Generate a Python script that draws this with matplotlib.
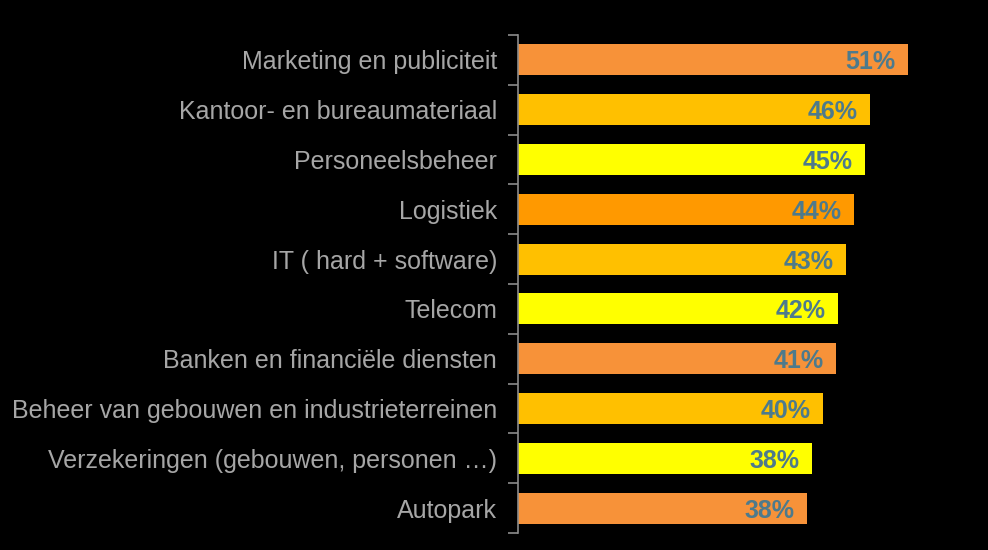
import matplotlib.pyplot as plt
import numpy as np

categories = ['Marketing en publiciteit', 'Kantoor- en bureaumateriaal', 'Personeelsbeheer',
              'Logistiek', 'IT ( hard + software)', 'Telecom', 'Banken en financiële diensten',
              'Beheer van gebouwen en industrieterreinen', 'Verzekeringen (gebouwen, personen …)',
              'Autopark']
values = [51.0, 46.0, 45.4, 43.9, 42.9, 41.8, 41.6, 39.9, 38.4, 37.8]
labels = ['51%', '46%', '45%', '44%', '43%', '42%', '41%', '40%', '38%', '38%']
colors = ['#F79239', '#FFC000', '#FFFF00', '#FF9900', '#FFC000', '#FFFF00',
          '#F79239', '#FFC000', '#FFFF00', '#F79239']

plt.rcParams['font.family'] = ['Liberation Sans', 'DejaVu Sans']

fig = plt.figure(figsize=(9.88, 5.5), dpi=100, facecolor='black')
ax = fig.add_axes([518/988, 1 - 533/550, (960-518)/988, 498/550])
ax.set_facecolor('black')

y = np.arange(len(categories))
ax.barh(y, values, height=0.62, color=colors)
ax.set_ylim(len(categories) - 0.5, -0.5)
ax.set_xlim(0, 57.8)

# value labels inside bar ends
for i, (v, lab) in enumerate(zip(values, labels)):
    ax.annotate(lab, (v, i), xytext=(-9, 0), textcoords='offset points',
                ha='right', va='center_baseline', fontsize=18, fontweight='bold', color='#4D7A8C')

ax.set_yticks(y)
ax.set_yticklabels(categories, fontsize=18, color='#A6A6A6')
ax.tick_params(axis='y', which='major', length=0, pad=15)
ax.set_yticks(np.arange(-0.5, len(categories)), minor=True)
ax.tick_params(axis='y', which='minor', length=7, color='#8C8C8C', width=1.2)
ax.set_xticks([])
for s in ['top', 'right', 'bottom']:
    ax.spines[s].set_visible(False)
ax.spines['left'].set_color('#8C8C8C')
ax.spines['left'].set_linewidth(1.2)

fig.savefig('out.png', dpi=100, facecolor='black')
